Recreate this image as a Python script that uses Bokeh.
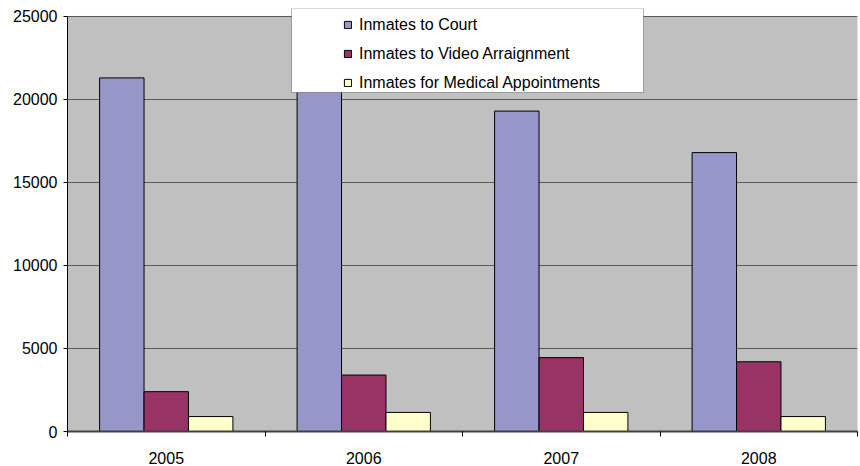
from bokeh.plotting import figure
from bokeh.models import (FixedTicker, BoxAnnotation, Legend, LegendItem,
                          Range1d, ColumnDataSource)
from bokeh.transform import dodge
from bokeh.embed import file_html
from bokeh.resources import INLINE

# ---- data ----
years = ["2005", "2006", "2007", "2008"]
court = [21300, 20700, 19300, 16800]
video = [2400, 3400, 4450, 4200]
medical = [900, 1150, 1150, 900]
y_ticks = [0, 5000, 10000, 15000, 20000, 25000]
series_names = ["Inmates to Court", "Inmates to Video Arraignment",
                "Inmates for Medical Appointments"]
colors = ["#9696C9", "#993366", "#FFFFCC"]

FONT = "Liberation Sans"
FS = "16px"

xc = [i + 0.5 for i in range(len(years))]
src = ColumnDataSource(dict(x=xc, court=court, video=video, medical=medical))

p = figure(width=860, height=466,
           x_range=Range1d(0, len(years)), y_range=Range1d(0, 25480),
           output_backend="svg", toolbar_location=None,
           min_border_left=67, min_border_right=3, min_border_top=8,
           min_border_bottom=0)
p.outline_line_color = None
p.background_fill_color = "white"
p.border_fill_color = "white"

# gray plot area
bg = BoxAnnotation(bottom=0, top=y_ticks[-1], fill_color="#C0C0C0", fill_alpha=1,
                   line_color="#808080", line_width=1, level="image")
p.add_layout(bg)

w = 0.225
r1 = p.vbar(x=dodge("x", -w), top="court", width=w, source=src,
            fill_color=colors[0], line_color="black", line_width=1)
r2 = p.vbar(x=dodge("x", 0), top="video", width=w, source=src,
            fill_color=colors[1], line_color="black", line_width=1)
r3 = p.vbar(x=dodge("x", w), top="medical", width=w, source=src,
            fill_color=colors[2], line_color="black", line_width=1)

# grid
p.xgrid.visible = False
p.ygrid.ticker = FixedTicker(ticks=y_ticks)
p.ygrid.grid_line_color = "#5a5a5a"
p.ygrid.grid_line_width = 1

# y axis
ya = p.yaxis[0]
ya.ticker = FixedTicker(ticks=y_ticks)
ya.bounds = (0, y_ticks[-1])
ya.axis_line_color = "black"
ya.major_tick_line_color = "black"
ya.major_tick_out = 4
ya.major_tick_in = 0
ya.minor_tick_line_color = None
ya.major_label_standoff = 6
ya.major_label_text_font = FONT
ya.major_label_text_font_size = FS
ya.major_label_text_color = "black"

# x axis
xa = p.xaxis[0]
xa.ticker = FixedTicker(ticks=xc, minor_ticks=list(range(len(years) + 1)))
xa.major_label_overrides = {x: y for x, y in zip(xc, years)}
xa.axis_line_color = "#404040"
xa.axis_line_width = 2
xa.major_tick_line_color = None
xa.major_tick_out = 0
xa.major_tick_in = 0
xa.minor_tick_line_color = "black"
xa.minor_tick_out = 5
xa.minor_tick_in = 0
xa.major_label_standoff = 15
xa.major_label_text_font = FONT
xa.major_label_text_font_size = FS
xa.major_label_text_color = "black"

# legend box
lbox = BoxAnnotation(left=291, right=643, top=8, bottom=92,
                     left_units="canvas", right_units="canvas",
                     top_units="canvas", bottom_units="canvas",
                     fill_color="white", fill_alpha=1,
                     line_color="black", line_width=1)
p.add_layout(lbox)

legend = Legend(items=[LegendItem(label=series_names[0], renderers=[r1]),
                       LegendItem(label=series_names[1], renderers=[r2]),
                       LegendItem(label=series_names[2], renderers=[r3])],
                location=(276, 338), padding=0, margin=0,
                border_line_color=None, background_fill_alpha=0,
                glyph_width=9, glyph_height=9, label_standoff=7,
                label_height=21, spacing=8,
                label_text_font=FONT, label_text_font_size=FS,
                label_text_color="black")
p.add_layout(legend)

open("out.html", "w").write(file_html(p, INLINE))
